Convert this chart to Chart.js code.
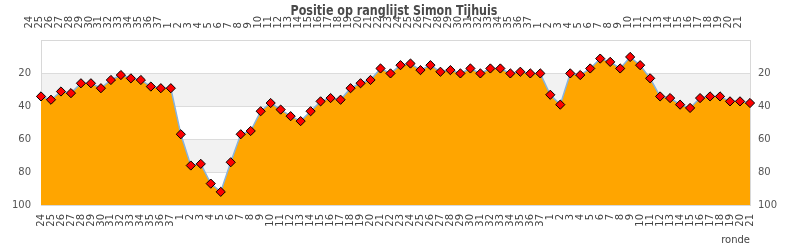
<!DOCTYPE html>
<html>
<head>
<meta charset="utf-8">
<script src="https://cdn.jsdelivr.net/npm/chart.js@4/dist/chart.umd.min.js"></script>
<style>
html,body{margin:0;padding:0;background:#fff;}
#wrap{width:790px;height:250px;}
</style>
</head>
<body>
<div id="wrap"><canvas id="c" width="790" height="250"></canvas></div>
<script>
const chartTitle = 'Positie op ranglijst Simon Tijhuis';
const xAxisTitle = 'ronde';
const rounds = ['24','25','26','27','28','29','30','31','32','33','34','35','36','37',
  '1','2','3','4','5','6','7','8','9','10','11','12','13','14','15','16','17','18','19','20',
  '21','22','23','24','25','26','27','28','29','30','31','32','33','34','35','36','37',
  '1','2','3','4','5','6','7','8','9','10','11','12','13','14','15','16','17','18','19','20','21'];
const positions = [34,36,31,32,26,26,29,24,21,23,24,28,29,29,
  57,76,75,87,92,74,57,55,43,38,42,46,49,43,37,35,36,29,26,24,
  17,20,15,14,18,15,19,18,20,17,20,17,17,20,19,20,20,
  33,39,20,21,17,11,13,17,10,15,23,34,35,39,41,35,34,34,37,37,38];
const yTicks = [0,20,40,60,80,100];
const bands = [[20,40],[60,80]];

const bandPlugin = {
  id: 'bands',
  beforeDraw(chart) {
    const {ctx, chartArea, scales} = chart;
    const y = scales.y;
    ctx.save();
    ctx.fillStyle = '#f2f2f2';
    bands.forEach(([a,b]) => {
      const p1 = y.getPixelForValue(a), p2 = y.getPixelForValue(b);
      ctx.fillRect(chartArea.left, Math.min(p1,p2), chartArea.right - chartArea.left, Math.abs(p2-p1));
    });
    ctx.restore();
  }
};
const titlePlugin = {
  id: 'overTitle',
  afterDraw(chart) {
    const ctx = chart.ctx;
    ctx.save();
    ctx.font = "bold 14px 'Liberation Sans Narrow', 'DejaVu Sans Condensed', sans-serif";
    ctx.fillStyle = '#4a4a4a';
    ctx.textAlign = 'center';
    ctx.textBaseline = 'alphabetic';
    const w = ctx.measureText(chartTitle).width;
    const sx = Math.min(1, 207 / w);
    ctx.translate(394, 15);
    ctx.scale(sx, 1);
    ctx.fillText(chartTitle, 0, 0);
    ctx.restore();
  }
};

const tickFont = {family: "'DejaVu Sans', sans-serif", size: 10};
const yCommon = {
  reverse: true, min: 0, max: 100,
  afterBuildTicks(s) { s.ticks = yTicks.map(v => ({value: v})); },
  grid: {color: '#dcdcdc', drawTicks: false, lineWidth: 1},
  border: {display: true, color: '#d8d8d8'},
  ticks: {font: tickFont, color: '#555', callback: v => v === 0 ? '' : String(v)}
};

new Chart(document.getElementById('c'), {
  type: 'line',
  data: {
    labels: rounds,
    datasets: [{
      data: positions,
      borderColor: '#86b3e0',
      borderWidth: 1.5,
      backgroundColor: '#FFA500',
      fill: {value: 100},
      tension: 0,
      pointStyle: 'rectRot',
      pointRadius: 4.6,
      pointBorderWidth: 1,
      pointBackgroundColor: '#ff0000',
      pointBorderColor: '#000000',
      xAxisID: 'x',
      yAxisID: 'y'
    }]
  },
  options: {
    responsive: false,
    animation: false,
    events: [],
    layout: {padding: 0},
    plugins: {legend: {display: false}, tooltip: {enabled: false}, title: {display: false}},
    scales: {
      x: {
        type: 'category', position: 'bottom', offset: false,
        grid: {display: false, drawTicks: false},
        border: {display: true, color: '#d8d8d8'},
        ticks: {autoSkip: false, maxRotation: 90, minRotation: 90, font: tickFont, color: '#444', padding: 9},
        title: {display: true, text: xAxisTitle, align: 'end', font: tickFont, color: '#444', padding: {top: 0, bottom: 4}},
        afterFit(s) { s.height = 45; }
      },
      x2: {
        type: 'category', position: 'top', offset: false, labels: rounds,
        grid: {display: false, drawTicks: false},
        border: {display: true, color: '#d8d8d8'},
        ticks: {autoSkip: false, maxRotation: 90, minRotation: 90, font: tickFont, color: '#444', padding: 12},
        afterFit(s) { s.height = 40.5; }
      },
      y: Object.assign({}, yCommon, {
        position: 'left',
        ticks: Object.assign({}, yCommon.ticks, {padding: 10}),
        afterFit(s) { s.width = 41; }
      }),
      y2: Object.assign({}, yCommon, {
        position: 'right',
        grid: {display: false, drawTicks: false},
        ticks: Object.assign({}, yCommon.ticks, {padding: 8}),
        afterFit(s) { s.width = 40; }
      })
    }
  },
  plugins: [bandPlugin, titlePlugin]
});
</script>
</body>
</html>
